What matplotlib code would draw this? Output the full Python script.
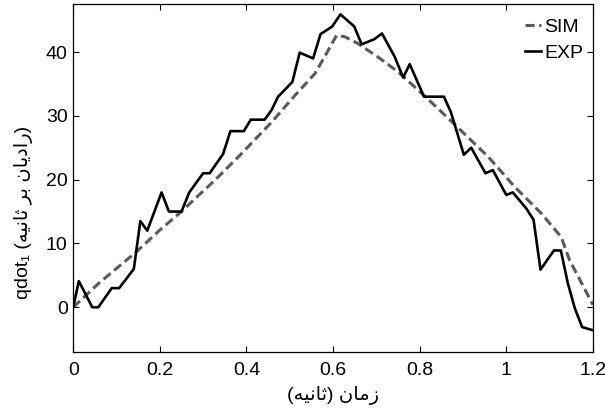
import numpy as np
import matplotlib
matplotlib.use('Agg')
import matplotlib.pyplot as plt

plt.rcParams['font.family'] = ['Liberation Sans', 'DejaVu Sans']

exp_t = [0.000, 0.013, 0.044, 0.058, 0.089, 0.106, 0.140, 0.155, 0.171, 0.204,
         0.221, 0.250, 0.268, 0.300, 0.315, 0.346, 0.363, 0.394, 0.410, 0.442,
         0.458, 0.473, 0.506, 0.523, 0.554, 0.571, 0.598, 0.617, 0.649, 0.666,
         0.695, 0.713, 0.742, 0.762, 0.777, 0.810, 0.856, 0.872, 0.902, 0.919,
         0.952, 0.969, 1.000, 1.015, 1.046, 1.063, 1.079, 1.110, 1.126, 1.142,
         1.158, 1.175, 1.200]
exp_q = [0.0, 4.1, 0.0, 0.0, 3.0, 3.0, 6.0, 13.5, 12.0, 18.0,
         15.0, 15.0, 18.0, 21.0, 21.0, 24.0, 27.6, 27.6, 29.4, 29.4,
         30.9, 33.0, 35.3, 39.9, 39.0, 42.8, 44.0, 45.9, 44.0, 41.2,
         42.0, 42.9, 39.3, 36.0, 38.1, 33.0, 33.0, 30.6, 23.9, 25.0,
         21.0, 21.5, 17.6, 18.0, 15.5, 13.7, 5.9, 8.9, 8.9, 3.8,
         -0.1, -3.1, -3.6]

# SIM (simulation)
sim_t = [0.000, 0.058, 0.146, 0.200, 0.250, 0.281, 0.327, 0.389, 0.458, 0.512,
         0.558, 0.585, 0.608, 0.627, 0.658, 0.704, 0.750, 0.810, 0.877, 0.958,
         1.019, 1.081, 1.127, 1.146, 1.200]
sim_q = [0.0, 3.7, 8.7, 12.1, 15.0, 17.0, 19.9, 24.1, 29.0, 33.2,
         36.6, 39.8, 42.6, 42.4, 41.3, 39.2, 36.9, 33.2, 28.9, 23.6,
         18.9, 14.7, 11.0, 7.4, 0.4]

xticks = [0, 0.2, 0.4, 0.6, 0.8, 1, 1.2]
xticklabels = ['0', '0.2', '0.4', '0.6', '0.8', '1', '1.2']
yticks = [0, 10, 20, 30, 40]

# matplotlib does no arabic shaping, so build the visual string by hand
FORMS = {
    'ا': ('\uFE8D', '\uFE8E', None, None),
    'ب': ('\uFE8F', '\uFE90', '\uFE91', '\uFE92'),
    'ث': ('\uFE99', '\uFE9A', '\uFE9B', '\uFE9C'),
    'د': ('\uFEA9', '\uFEAA', None, None),
    'ر': ('\uFEAD', '\uFEAE', None, None),
    'ز': ('\uFEAF', '\uFEB0', None, None),
    'م': ('\uFEE1', '\uFEE2', '\uFEE3', '\uFEE4'),
    'ن': ('\uFEE5', '\uFEE6', '\uFEE7', '\uFEE8'),
    'ه': ('\uFEE9', '\uFEEA', '\uFEEB', '\uFEEC'),
    'ی': ('\uFBFC', '\uFBFD', '\uFBFE', '\uFBFF'),
}


def shape_word(word):
    out = []
    for i, ch in enumerate(word):
        iso, fin, ini, med = FORMS[ch]
        prev_joins = i > 0 and FORMS[word[i - 1]][2] is not None
        next_joins = i < len(word) - 1 and ini is not None
        if prev_joins and next_joins:
            out.append(med)
        elif prev_joins:
            out.append(fin)
        elif next_joins:
            out.append(ini)
        else:
            out.append(iso)
    return ''.join(reversed(out))


def rtl(text):
    return ' '.join(shape_word(w) for w in reversed(text.split()))


# "زمان (ثانیه)" laid out right to left
xlabel = '(' + rtl('ثانیه') + ') ' + rtl('زمان')
ylabel = 'qdot\u2081 (' + rtl('رادیان بر ثانیه') + ')'

fig = plt.figure(figsize=(6.05, 4.16), dpi=100)
ax = fig.add_axes([0.121, 0.154, 0.859, 0.836])

ax.plot(sim_t, sim_q, '--', color='#5a5a5a', lw=2.2, dashes=(3, 1.5), label='SIM')
ax.plot(exp_t, exp_q, '-', color='black', lw=1.9, label='EXP')

ax.set_xlim(0, 1.2)
ax.set_ylim(-7, 47.5)
ax.set_xticks(xticks)
ax.set_xticklabels(xticklabels)
ax.set_yticks(yticks)
ax.tick_params(direction='in', top=True, right=True, length=4.5, width=0.8,
               labelsize=14, pad=4)
ax.tick_params(axis='x', pad=7)
for s in ax.spines.values():
    s.set_linewidth(0.9)

ax.set_xlabel(xlabel, fontsize=14, labelpad=5)
ax.set_ylabel(ylabel, fontsize=14)
ax.yaxis.set_label_coords(-0.078, 0.40)

ax.legend(loc='upper right', bbox_to_anchor=(1.0, 0.988), frameon=False,
          fontsize=14, handlelength=0.85, handletextpad=0.15,
          labelspacing=0.45, borderaxespad=0.15, borderpad=0.35)

plt.savefig('out.png', dpi=100)
